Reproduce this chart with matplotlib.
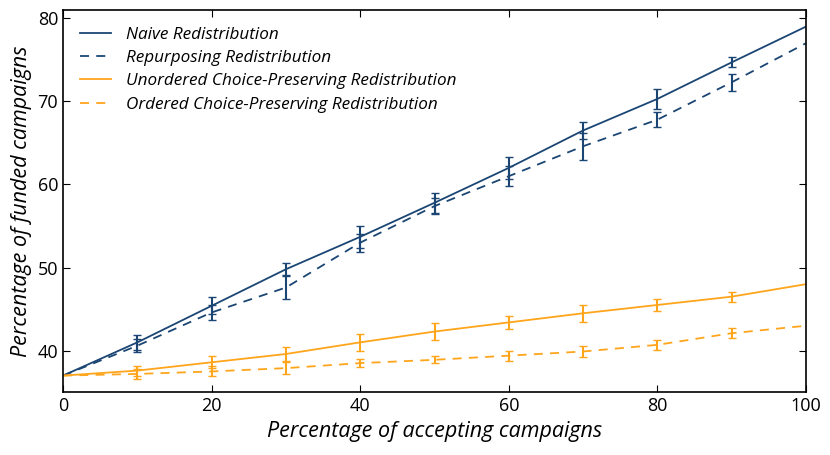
import numpy as np
import matplotlib
matplotlib.use("Agg")
import matplotlib.pyplot as plt

plt.rcParams['font.family'] = ['Open Sans', 'DejaVu Sans']

x = [0, 10, 20, 30, 40, 50, 60, 70, 80, 90, 100]

naive = [37, 41.0, 45.4, 49.8, 53.7, 57.8, 62.0, 66.5, 70.3, 74.7, 79.0]
naive_err = [0, 0.9, 1.0, 0.7, 1.3, 1.2, 1.3, 1.0, 1.2, 0.6, 0]

repurposing = [37, 40.6, 44.6, 47.6, 53.0, 57.4, 61.0, 64.6, 67.8, 72.3, 77.0]
repurposing_err = [0, 0.8, 0.9, 1.4, 1.1, 1.0, 1.2, 1.6, 0.9, 1.0, 0]

unordered = [37, 37.6, 38.6, 39.6, 41.0, 42.3, 43.4, 44.5, 45.5, 46.5, 48.0]
unordered_err = [0, 0.6, 0.7, 0.8, 1.0, 1.0, 0.8, 1.0, 0.7, 0.6, 0]

ordered = [37, 37.2, 37.5, 37.9, 38.5, 38.9, 39.4, 39.9, 40.7, 42.1, 43.0]
ordered_err = [0, 0.6, 0.6, 0.7, 0.5, 0.4, 0.6, 0.7, 0.6, 0.6, 0]

labels = ["Naive Redistribution", "Repurposing Redistribution",
          "Unordered Choice-Preserving Redistribution",
          "Ordered Choice-Preserving Redistribution"]

blue = '#1b4674'
orange = '#ffa51c'

fig, ax = plt.subplots(figsize=(8.3, 4.55), dpi=100)
fig.subplots_adjust(left=0.076, right=0.971, top=0.978, bottom=0.138)

series = [(naive, naive_err, blue, '-'),
          (repurposing, repurposing_err, blue, (0, (5, 4))),
          (unordered, unordered_err, orange, '-'),
          (ordered, ordered_err, orange, (0, (5, 4)))]

xs = np.array(x)
for (vals, err, col, ls), lab in zip(series, labels):
    vals = np.array(vals)
    err = np.array(err)
    ax.plot(xs, vals, color=col, linestyle=ls, linewidth=1.3, label=lab)
    m = (xs > 0) & (xs < 100)
    ax.errorbar(xs[m], vals[m], yerr=err[m], fmt='none', ecolor=col,
                elinewidth=1.5, capsize=3, capthick=1.0)

ax.set_xlim(0, 100)
ax.set_ylim(35, 81)
ax.set_xticks([0, 20, 40, 60, 80, 100])
ax.set_yticks([40, 50, 60, 70, 80])
ax.tick_params(direction='in', top=True, right=True, labelsize=13, length=5)
for s in ax.spines.values():
    s.set_linewidth(1.2)

ax.set_xlabel("Percentage of accepting campaigns", fontsize=15.5, style='italic')
ax.set_ylabel("Percentage of funded campaigns", fontsize=15.5, style='italic')

leg = ax.legend(loc='upper left', frameon=False, handlelength=1.8,
                handletextpad=0.9, labelspacing=0.42, borderaxespad=0.6,
                prop={'style': 'italic', 'size': 12.3})

fig.savefig("out.png", dpi=100)
